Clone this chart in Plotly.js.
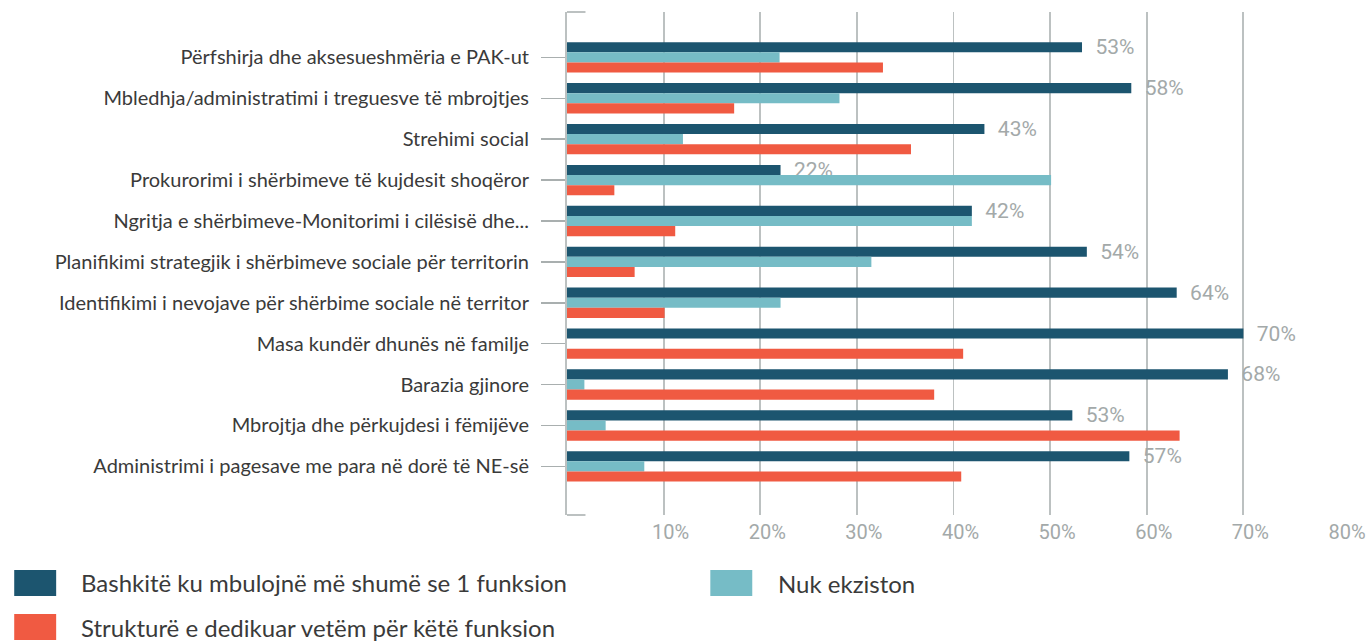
<!DOCTYPE html>
<html>
<head>
<meta charset="utf-8">
<script src="https://cdn.plot.ly/plotly-3.0.1.min.js"></script>
<style>
  html, body { margin: 0; padding: 0; background: #ffffff; }
  #chart { width: 1370px; height: 641px; }
</style>
</head>
<body>
<div id="chart"></div>
<script>
// ---- Data ----
const categories = [
  "Përfshirja dhe aksesueshmëria e PAK-ut",
  "Mbledhja/administratimi i treguesve të mbrojtjes",
  "Strehimi social",
  "Prokurorimi i shërbimeve të kujdesit shoqëror",
  "Ngritja e shërbimeve-Monitorimi i cilësisë dhe...",
  "Planifikimi strategjik i shërbimeve sociale për territorin",
  "Identifikimi i nevojave për shërbime sociale në territor",
  "Masa kundër dhunës në familje",
  "Barazia gjinore",
  "Mbrojtja dhe përkujdesi i fëmijëve",
  "Administrimi i pagesave me para në dorë të NE-së"
];
const seriesNames = [
  "Bashkitë ku mbulojnë më shumë se 1 funksion",
  "Nuk ekziston",
  "Strukturë e dedikuar vetëm për këtë funksion"
];
const multiFunction = [53.3, 58.4, 43.2, 22.1, 41.9, 53.8, 63.1, 70.0, 68.4, 52.3, 58.2];
const multiFunctionLabels = ["53%", "58%", "43%", "22%", "42%", "54%", "64%", "70%", "68%", "53%", "57%"];
const notExisting = [22.0, 28.2, 12.0, 50.1, 41.9, 31.5, 22.1, 0, 1.8, 4.0, 8.0];
const dedicated = [32.7, 17.3, 35.6, 4.9, 11.2, 7.0, 10.1, 41.0, 38.0, 63.4, 40.8];
const xTickVals = [10, 20, 30, 40, 50, 60, 70, 80];
const xTickText = ["10%", "20%", "30%", "40%", "50%", "60%", "70%", "80%"];

// ---- Styles ----
const colors = ["#1c556f", "#76bcc6", "#f05a42"];
const labelFont = "Lato, 'Open Sans', sans-serif";
const numFont = "Roboto, 'Open Sans', sans-serif";
const gray = "#a3a9a9";
const lineGray = "#bcc1c1";
const textColor = "#3a3a3a";

const NB = "\u00a0";
const traces = [
  {
    type: "bar", orientation: "h", name: seriesNames[0],
    y: categories, x: multiFunction,
    marker: { color: colors[0] },
    text: multiFunctionLabels.map(t => NB + NB + t),
    textposition: "outside", constraintext: "none", cliponaxis: false,
    textfont: { family: numFont, size: 21, color: gray },
    hoverinfo: "skip"
  },
  {
    type: "bar", orientation: "h", name: seriesNames[1],
    y: categories, x: notExisting,
    marker: { color: colors[1] },
    hoverinfo: "skip"
  },
  {
    type: "bar", orientation: "h", name: seriesNames[2],
    y: categories, x: dedicated,
    marker: { color: colors[2] },
    hoverinfo: "skip"
  }
];

// plot area geometry (pixels) used for the hand-drawn legend
const L = 566.5, R = 1340.5, T = 12, B = 515;
const px = v => (v - L) / (R - L);
const py = v => (B - v) / (B - T);

const legendItems = [
  { sx0: 13, sx1: 55, sy0: 570, sy1: 596, tx: 78, ty: 582, c: 0 },
  { sx0: 710, sx1: 752, sy0: 570, sy1: 596, tx: 776, ty: 583, c: 1 },
  { sx0: 13, sx1: 55, sy0: 614, sy1: 640, tx: 78, ty: 627, c: 2 }
];

const shapes = [
  // short horizontal ticks at top and bottom of the vertical axis
  { type: "line", xref: "paper", yref: "paper", x0: 0, x1: px(585), y0: 1, y1: 1, line: { color: lineGray, width: 2 } },
  { type: "line", xref: "paper", yref: "paper", x0: 0, x1: px(585), y0: 0, y1: 0, line: { color: lineGray, width: 2 } }
];
const annotations = [];
legendItems.forEach(it => {
  shapes.push({
    type: "rect", xref: "paper", yref: "paper",
    x0: px(it.sx0), x1: px(it.sx1), y0: py(it.sy1), y1: py(it.sy0),
    fillcolor: colors[it.c], line: { width: 0 }
  });
  annotations.push({
    xref: "paper", yref: "paper", x: px(it.tx), y: py(it.ty),
    xanchor: "left", yanchor: "middle", showarrow: false,
    text: seriesNames[it.c],
    font: { family: labelFont, size: 24, color: textColor }
  });
});

const layout = {
  width: 1370, height: 641,
  margin: { l: L, r: 1370 - R, t: T, b: 641 - B, pad: 0 },
  paper_bgcolor: "#ffffff", plot_bgcolor: "#ffffff",
  barmode: "group", bargap: 0.257, bargroupgap: 0,
  showlegend: false,
  xaxis: {
    range: [0, 80], fixedrange: true,
    tickvals: xTickVals, ticktext: xTickText,
    showgrid: true, gridcolor: lineGray, gridwidth: 1.8,
    zeroline: false, showline: false, ticks: "",
    tickfont: { family: numFont, size: 20, color: gray },
    ticklabelshift: 7, ticklabelstandoff: 3
  },
  yaxis: {
    type: "category", categoryorder: "array", categoryarray: categories,
    range: [11.19, -1.11], fixedrange: true,
    showline: true, linecolor: lineGray, linewidth: 2,
    ticks: "outside", ticklen: 24, tickcolor: "#a9afaf", tickwidth: 1.5,
    showgrid: false, zeroline: false,
    tickfont: { family: labelFont, size: 20, color: textColor },
    ticklabelstandoff: 8
  },
  shapes: shapes,
  annotations: annotations,
  font: { family: labelFont }
};

Plotly.newPlot("chart", traces, layout, { displayModeBar: false, staticPlot: true });
</script>
</body>
</html>
